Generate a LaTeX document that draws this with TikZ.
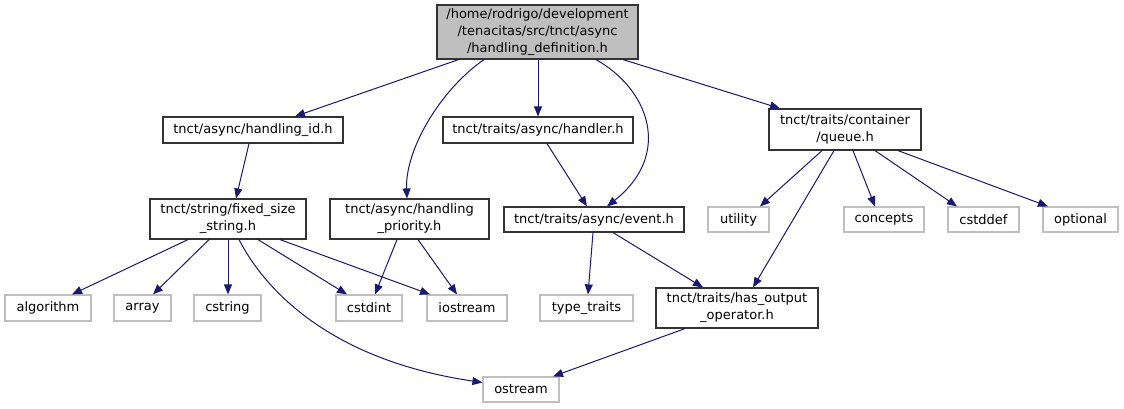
\documentclass[tikz,border=0pt]{standalone}
\usepackage{fontspec}
\setmainfont{DejaVu Sans}
\usetikzlibrary{arrows.meta,calc}
\definecolor{edgecol}{HTML}{191970}
\definecolor{grayline}{HTML}{BFBFBF}
\definecolor{rootfill}{HTML}{BFBFBF}
\definecolor{boxline}{HTML}{333333}
\begin{document}
\begin{tikzpicture}[x=1pt,y=-1pt,
  every node/.style={font=\fontsize{13}{17}\selectfont, inner sep=0pt, align=center},
  hbox/.style={draw=boxline, line width=1.2pt, fill=white},
  sysbox/.style={draw=grayline, line width=1.2pt, fill=white},
  rootbox/.style={draw=boxline, line width=1.2pt, fill=rootfill},
  dep/.style={draw=edgecol, line width=1pt, -{Triangle[length=10pt,width=8pt]}}
]
\useasboundingbox (0,0) rectangle (1124,409);
\fill[white] (0,0) rectangle (1124,409);
% nodes
\node[rootbox, minimum width=201pt, minimum height=54pt] (root) at (537.5,32) {/home/rodrigo/development\\/tenacitas/src/tnct/async\\/handling\_definition.h};
\node[hbox, minimum width=180pt, minimum height=26pt] (hid) at (253,130) {tnct/async/handling\_id.h};
\node[hbox, minimum width=190pt, minimum height=26pt] (handler) at (538,130) {tnct/traits/async/handler.h};
\node[hbox, minimum width=152pt, minimum height=41pt] (queue) at (845,129.5) {tnct/traits/container\\/queue.h};
\node[hbox, minimum width=156pt, minimum height=40pt] (fss) at (228,219) {tnct/string/fixed\_size\\\_string.h};
\node[hbox, minimum width=159pt, minimum height=40pt] (hpri) at (409.5,219) {tnct/async/handling\\\_priority.h};
\node[hbox, minimum width=180pt, minimum height=25pt] (event) at (594,219.5) {tnct/traits/async/event.h};
\node[sysbox, minimum width=61pt, minimum height=25pt] (utility) at (738.5,219.5) {utility};
\node[sysbox, minimum width=80pt, minimum height=25pt] (concepts) at (884,219.5) {concepts};
\node[sysbox, minimum width=71pt, minimum height=25pt] (cstddef) at (983.5,219.5) {cstddef};
\node[sysbox, minimum width=75pt, minimum height=25pt] (optional) at (1080.5,219.5) {optional};
\node[sysbox, minimum width=86pt, minimum height=26pt] (algorithm) at (48,308) {algorithm};
\node[sysbox, minimum width=57pt, minimum height=26pt] (array) at (142.5,308) {array};
\node[sysbox, minimum width=67pt, minimum height=26pt] (cstring) at (227.5,308) {cstring};
\node[sysbox, minimum width=66pt, minimum height=26pt] (cstdint) at (369,308) {cstdint};
\node[sysbox, minimum width=80pt, minimum height=26pt] (iostream) at (467,308) {iostream};
\node[sysbox, minimum width=93pt, minimum height=26pt] (typetraits) at (586.5,308) {type\_traits};
\node[hbox, minimum width=162pt, minimum height=40pt] (hoo) at (737,308) {tnct/traits/has\_output\\\_operator.h};
\node[sysbox, minimum width=76pt, minimum height=25pt] (ostream) at (521,389.5) {ostream};
% edges
\draw[dep] ([xshift=-79pt]root.south) -- ([xshift=42pt]hid.north);
\draw[dep] ([xshift=-53.5pt]root.south) .. controls (440,90) and (405,150) .. ([xshift=-2.5pt]hpri.north);
\draw[dep] ([xshift=0.5pt]root.south) -- (handler.north);
\draw[dep] ([xshift=58.5pt]root.south) .. controls (650,90) and (672,155) .. ([xshift=13pt]event.north);
\draw[dep] ([xshift=85.5pt]root.south) -- ([xshift=-65pt]queue.north);
\draw[dep] ([xshift=-4pt]hid.south) -- ([xshift=8pt]fss.north);
\draw[dep] ([xshift=9pt]handler.south) -- ([xshift=-7pt]event.north);
\draw[dep] ([xshift=-40pt]fss.south) -- ([xshift=24pt]algorithm.north);
\draw[dep] ([xshift=-19pt]fss.south) -- ([xshift=10.5pt]array.north);
\draw[dep] (fss.south) -- ([xshift=0.5pt]cstring.north);
\draw[dep] ([xshift=11pt]fss.south) .. controls (265,290) and (330,360) .. ([yshift=7pt]ostream.west);
\draw[dep] ([xshift=30pt]fss.south) -- ([xshift=-22pt]cstdint.north);
\draw[dep] ([xshift=52pt]fss.south) -- ([xshift=-37pt]iostream.north);
\draw[dep] ([xshift=-12.5pt]hpri.south) -- ([xshift=6pt]cstdint.north);
\draw[dep] ([xshift=8.5pt]hpri.south) -- ([xshift=-10pt]iostream.north);
\draw[dep] ([xshift=-1pt]event.south) -- ([xshift=1.5pt]typetraits.north);
\draw[dep] ([xshift=19pt]event.south) -- ([xshift=-34pt]hoo.north);
\draw[dep] ([xshift=-23pt]queue.south) -- ([xshift=21.5pt]utility.north);
\draw[dep] ([xshift=-11pt]queue.south) -- ([xshift=16pt]hoo.north);
\draw[dep] ([xshift=8pt]queue.south) -- ([xshift=-9pt]concepts.north);
\draw[dep] ([xshift=30pt]queue.south) -- ([xshift=-26.5pt]cstddef.north);
\draw[dep] ([xshift=53pt]queue.south) -- ([xshift=-32.5pt]optional.north);
\draw[dep] ([xshift=-52pt]hoo.south) -- ([xshift=32pt]ostream.north);
\end{tikzpicture}
\end{document}
